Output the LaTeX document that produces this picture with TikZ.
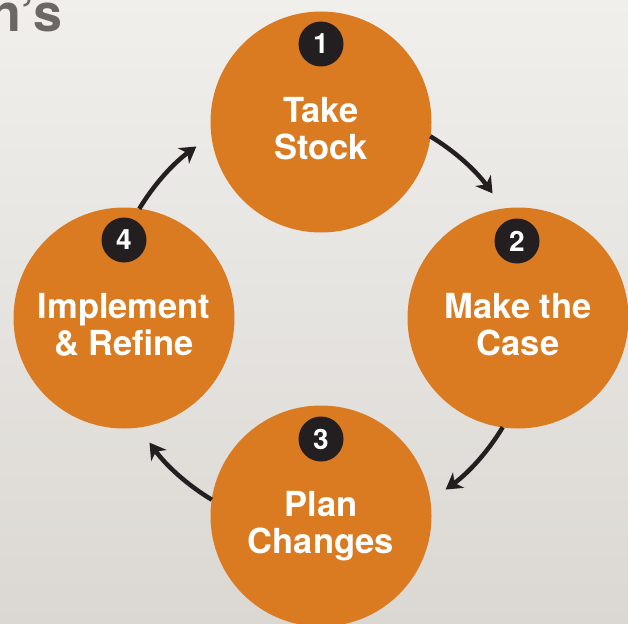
\documentclass[tikz,border=0pt]{standalone}
\usepackage{fontspec}
\setmainfont{TeX Gyre Heros}
\usetikzlibrary{arrows.meta,calc}
\definecolor{bgtop}{RGB}{240,239,236}
\definecolor{bgbot}{RGB}{219,216,211}
\definecolor{orng}{RGB}{218,122,33}
\definecolor{badge}{RGB}{35,31,32}
\definecolor{titlegray}{RGB}{106,103,100}
\tikzset{
  stepcircle/.style={circle, fill=orng, minimum size=221pt, inner sep=0pt},
  badgecircle/.style={circle, fill=badge, minimum size=45pt, inner sep=0pt, text=white, font=\fontsize{28}{28}\selectfont\bfseries},
  steplabel/.style={text=white, inner sep=0pt, anchor=base, font=\fontsize{34.5}{37}\selectfont\bfseries},
  cyclearrow/.style={line width=4.5pt, color=badge, -{Stealth[length=16pt,width=19pt,inset=5pt]}}
}
\begin{document}
\begin{tikzpicture}[x=1pt,y=-1pt]
\useasboundingbox (0,0) rectangle (628,623);
\clip (0,0) rectangle (628,623);
\shade[top color=bgtop, bottom color=bgbot] (0,0) rectangle (628,623);
\node[anchor=base east, inner sep=0pt, text=titlegray, font=\fontsize{52}{52}\selectfont\bfseries] (title) at (63,32) {n’s};
% circles
\node[stepcircle] (c1) at (321,122) {};
\node[stepcircle] (c2) at (518,318) {};
\node[stepcircle] (c3) at (321,516) {};
\node[stepcircle] (c4) at (124,318) {};
% badges
\node[badgecircle] (b1) at (321,44) {1};
\node[badgecircle] (b2) at (517,241) {2};
\node[badgecircle] (b3) at (321,439) {3};
\node[badgecircle] (b4) at (124,240) {4};
% labels
\node[steplabel] (t1) at (321,122) {\begin{tabular}[t]{@{}c@{}}Take\\Stock\end{tabular}};
\node[steplabel] (t2) at (518,318) {\begin{tabular}[t]{@{}c@{}}Make the\\Case\end{tabular}};
\node[steplabel] (t3) at (321,516) {\begin{tabular}[t]{@{}c@{}}Plan\\Changes\end{tabular}};
\node[steplabel] (t4) at (124,318) {\begin{tabular}[t]{@{}c@{}}Implement\\\& Refine\end{tabular}};
% arrows along a circle around the centre
\coordinate (O) at (321,318);
\coordinate (s1) at ($(O)+(-59:212)$);
\coordinate (s2) at ($(O)+(31:212)$);
\coordinate (s3) at ($(O)+(121:212)$);
\coordinate (s4) at ($(O)+(211:212)$);
\draw[cyclearrow] (s1) arc[start angle=-59, end angle=-36, radius=212];
\draw[cyclearrow] (s2) arc[start angle=31, end angle=54, radius=212];
\draw[cyclearrow] (s3) arc[start angle=121, end angle=144, radius=212];
\draw[cyclearrow] (s4) arc[start angle=211, end angle=234, radius=212];
\end{tikzpicture}
\end{document}
